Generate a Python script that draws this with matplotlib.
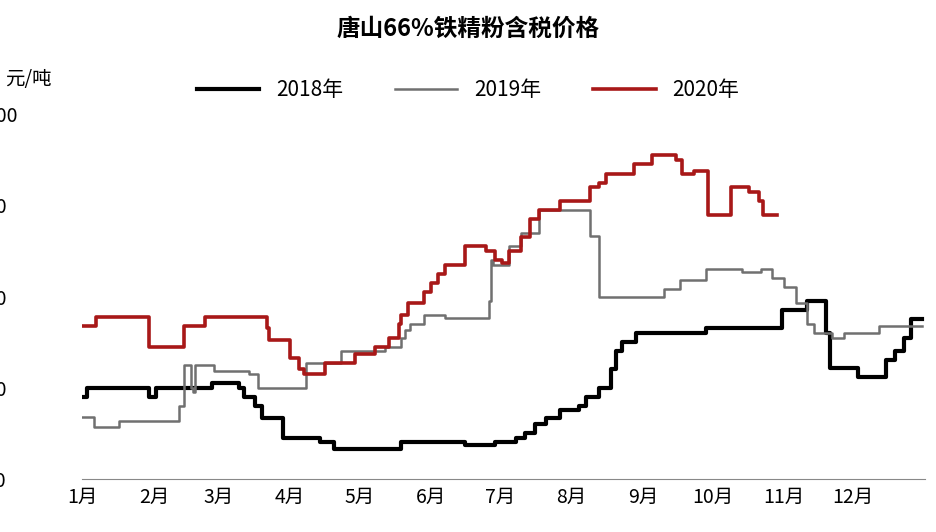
import matplotlib
matplotlib.use("Agg")
import matplotlib.pyplot as plt

plt.rcParams['font.family'] = ['Noto Sans CJK SC', 'DejaVu Sans']

# day of year -> price (yuan/ton), step series
d2018 = [0, 2, 29, 32, 56, 68, 70, 75, 78, 79, 87, 103, 109, 138, 166, 179, 188, 192, 196, 201, 207, 215, 218, 224, 229, 231, 234, 236, 240, 270, 303, 314, 322, 324, 336, 348, 352, 356, 359, 364]
v2018 = [690, 700, 690, 700, 705, 700, 690, 680, 667, 667, 645, 640, 633, 640, 637, 640, 645, 650, 660, 667, 675, 680, 690, 700, 720, 740, 750, 750, 760, 765, 785, 795, 760, 722, 712, 730, 740, 755, 775, 775]

d2019 = [0, 5, 16, 42, 44, 47, 48, 49, 57, 72, 76, 97, 112, 131, 138, 140, 142, 148, 157, 176, 177, 178, 185, 190, 198, 220, 224, 252, 259, 270, 286, 294, 299, 304, 309, 314, 317, 325, 330, 345, 364]
v2019 = [668, 657, 663, 680, 725, 700, 695, 725, 718, 715, 700, 727, 740, 745, 755, 763, 770, 780, 777, 795, 840, 835, 855, 870, 895, 866, 800, 808, 818, 830, 827, 830, 820, 810, 793, 770, 760, 755, 760, 768, 768]

d2020 = [0, 6, 29, 44, 53, 80, 81, 90, 94, 96, 105, 118, 127, 133, 137, 138, 141, 148, 151, 154, 157, 166, 175, 179, 182, 185, 190, 194, 198, 207, 212, 220, 224, 227, 239, 247, 257, 260, 265, 271, 281, 289, 293, 295, 301]
v2020 = [768, 778, 745, 768, 778, 765, 752, 733, 720, 715, 727, 737, 745, 755, 770, 780, 793, 805, 815, 825, 835, 855, 850, 840, 837, 850, 865, 885, 895, 905, 905, 920, 925, 935, 945, 955, 950, 935, 938, 890, 920, 915, 905, 890, 890]

month_starts = [0, 31, 59, 90, 120, 151, 181, 212, 243, 273, 304, 334]
month_labels = ['1月', '2月', '3月', '4月', '5月', '6月', '7月', '8月', '9月', '10月', '11月', '12月']
y_ticks = [600, 700, 800, 900, 1000]

fig = plt.figure(figsize=(9.36, 5.32), dpi=100)
ax = fig.add_axes([0.088, 0.10, 0.90, 0.685])

ax.plot(d2018, v2018, drawstyle='steps-post', color='black', lw=3, label='2018年')
ax.plot(d2019, v2019, drawstyle='steps-post', color='#707070', lw=1.8, label='2019年')
ax.plot(d2020, v2020, drawstyle='steps-post', color='#a81818', lw=2.6, label='2020年')

ax.set_xlim(0, 365)
ax.set_ylim(600, 1000)
ax.set_xticks(month_starts)
ax.set_xticklabels(month_labels, fontsize=14)
ax.set_yticks(y_ticks)
ax.set_yticklabels([str(v) for v in y_ticks], fontsize=14)
ax.tick_params(axis='y', length=0, pad=78)
ax.tick_params(axis='x', length=0, pad=6)
for lbl in ax.get_yticklabels():
    lbl.set_horizontalalignment('left')
for s in ['top', 'right', 'left']:
    ax.spines[s].set_visible(False)
ax.spines['bottom'].set_color('#888888')

fig.text(0.5, 0.945, '唐山66%铁精粉含税价格', ha='center', va='center', fontsize=17, fontweight='bold')
fig.text(0.005, 0.85, '元/吨', ha='left', va='center', fontsize=14)
fig.legend(loc='center', bbox_to_anchor=(0.5, 0.83), ncol=3, frameon=False, fontsize=15,
           handlelength=3, columnspacing=2.5)

fig.savefig('out.png', dpi=100)
